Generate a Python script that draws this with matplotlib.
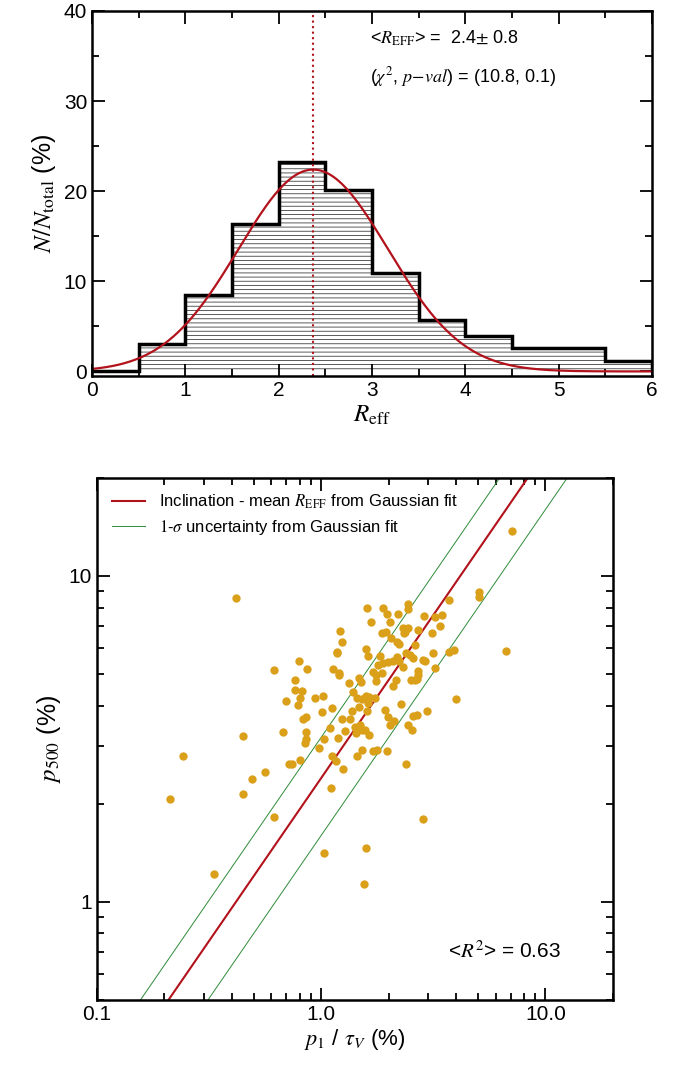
import numpy as np
import matplotlib
matplotlib.use("Agg")
import matplotlib.pyplot as plt
from matplotlib.ticker import MultipleLocator, FixedLocator, NullFormatter

plt.rcParams['font.family'] = ['Liberation Sans', 'DejaVu Sans']
plt.rcParams['mathtext.fontset'] = 'stix'
plt.rcParams['hatch.linewidth'] = 0.6

# histogram of R_eff (percent per bin)
bin_edges = [0, 0.5, 1.0, 1.5, 2.0, 2.5, 3.0, 3.5, 4.0, 4.5, 5.0, 5.5, 6.0]
bin_pct = [0.0, 3.0, 8.5, 16.4, 23.2, 20.1, 10.9, 5.7, 3.9, 2.6, 2.6, 1.2]
g_mean, g_sigma, g_peak = 2.37, 0.80, 22.4

# scatter: p1/tauV (%) vs p500 (%)
px = [7.11, 0.415, 5.04, 5.04, 3.72, 6.64, 3.97, 2.83, 1.58, 1.55, 1.03, 0.332, 0.211, 0.241,
      0.446, 0.45, 0.492, 0.564, 0.614, 0.614, 0.673, 0.697, 0.72, 0.74, 0.807, 0.798, 0.764,
      0.762, 0.82, 0.80, 0.79, 0.826, 0.855, 0.852, 0.858, 0.849, 0.866, 0.94, 1.02, 1.01,
      0.98, 1.03, 1.12, 1.16, 1.11, 1.25, 1.09, 1.19, 1.12, 1.24, 1.35, 1.37, 1.27, 1.21,
      1.24, 1.18, 1.18, 1.13, 1.20, 1.20, 1.33, 1.47, 1.50, 1.38, 1.44, 1.52, 1.58, 1.63,
      1.74, 1.48, 1.60, 1.61, 1.42, 1.49, 1.52, 1.57, 1.43, 1.64, 1.52, 1.45, 1.70, 1.77,
      1.96, 1.60, 1.89, 1.66, 1.96, 2.03, 2.19, 1.87, 1.95, 2.05, 2.17, 2.22, 1.58, 1.61,
      1.83, 1.80, 1.89, 1.99, 2.10, 2.17, 2.22, 1.70, 1.76, 1.75, 1.87, 2.08, 2.15, 2.32,
      2.40, 2.49, 2.57, 2.62, 2.43, 2.44, 2.32, 2.36, 2.44, 2.34, 2.86, 2.71, 3.12, 3.38,
      3.44, 3.23, 2.85, 2.90, 3.16, 3.70, 3.90, 3.21, 2.69, 2.71, 2.66, 2.51, 2.62, 2.27,
      2.95, 2.66, 2.57, 1.93, 1.99, 2.11, 2.03, 2.44, 2.55, 2.40]
py = [13.7, 8.55, 8.95, 8.65, 8.45, 5.89, 4.19, 1.79, 1.46, 1.135, 1.41, 1.22, 2.07, 2.81,
      2.14, 3.22, 2.38, 2.51, 1.82, 5.14, 3.31, 4.14, 2.65, 2.65, 2.73, 5.47, 4.80, 4.48,
      4.45, 4.23, 4.02, 3.64, 3.69, 3.32, 3.15, 3.07, 5.18, 4.23, 4.28, 3.82, 2.96, 3.16,
      2.80, 2.70, 2.23, 2.56, 3.42, 3.19, 3.94, 3.64, 3.64, 3.84, 3.34, 6.79, 6.27, 5.84,
      5.80, 5.18, 4.98, 5.05, 4.71, 4.86, 4.74, 4.40, 4.23, 4.19, 4.28, 4.25, 4.23, 3.96,
      3.86, 4.08, 3.45, 3.49, 3.37, 3.37, 3.29, 3.24, 2.93, 2.81, 2.90, 2.92, 2.90, 7.96,
      7.96, 7.24, 7.65, 7.24, 7.65, 6.67, 6.74, 6.44, 6.29, 6.18, 5.97, 5.70, 5.70, 5.35,
      5.42, 5.44, 5.47, 5.63, 5.47, 5.07, 4.98, 4.77, 5.03, 4.61, 4.81, 5.27, 5.79, 5.73,
      5.59, 6.15, 8.21, 7.90, 6.92, 6.74, 6.92, 6.67, 7.55, 6.84, 6.67, 7.0, 7.6, 7.48,
      5.53, 5.50, 5.82, 5.86, 5.93, 5.21, 5.11, 4.98, 4.83, 4.81, 4.81, 4.04, 3.86, 3.75,
      3.73, 3.87, 3.69, 3.58, 3.48, 3.50, 3.36, 2.65]
slope_mean, slope_lo, slope_hi = 2.4, 1.6, 3.2

red = '#B2121B'
green = '#2E8B3A'
gold = '#DAA01A'

fig = plt.figure(figsize=(6.83, 10.72), dpi=100)

# ---- top panel: histogram ----
ax1 = fig.add_axes([0.1347, 0.6493, 0.820, 0.3405])
lefts = np.array(bin_edges[:-1])
ax1.bar(lefts, bin_pct, width=0.5, align='edge', color='none', edgecolor='0.25',
        linewidth=0, hatch='----')
ax1.stairs(bin_pct, bin_edges, color='black', linewidth=2.5)
xx = np.linspace(0, 6, 400)
ax1.plot(xx, g_peak * np.exp(-0.5 * ((xx - g_mean) / g_sigma) ** 2), color=red, lw=1.6)
ax1.axvline(g_mean, color=red, ls=':', lw=1.5)
ax1.set_xlim(0, 6)
ax1.set_ylim(-0.5, 40)
ax1.xaxis.set_major_locator(MultipleLocator(1))
ax1.xaxis.set_minor_locator(MultipleLocator(0.5))
ax1.yaxis.set_major_locator(MultipleLocator(10))
ax1.yaxis.set_minor_locator(MultipleLocator(5))
ax1.set_xlabel(r'$R_{\mathrm{eff}}$', fontsize=18, labelpad=2)
ax1.set_ylabel(r'$N/N_{\mathrm{total}}$ (%)', fontsize=18)
ax1.text(2.98, 37, r'<$R_{\mathrm{EFF}}$> =  2.4$\pm$ 0.8', fontsize=13, va='center')
ax1.text(2.98, 32.7, r'($\chi^2$, $p\!-\!val$) = (10.8, 0.1)', fontsize=13, va='center')

# ---- bottom panel: scatter ----
ax2 = fig.add_axes([0.142, 0.0672, 0.7555, 0.487])
ax2.set_xscale('log')
ax2.set_yscale('log')
xl = np.array([0.1, 20])
ax2.plot(xl, slope_mean * xl, color=red, lw=1.5,
         label=r'Inclination - mean $R_{\mathrm{EFF}}$ from Gaussian fit')
ax2.plot(xl, slope_hi * xl, color=green, lw=0.7,
         label=r'$1$-$\sigma$ uncertainty from Gaussian fit')
ax2.plot(xl, slope_lo * xl, color=green, lw=0.7)
ax2.scatter(px, py, s=36, color=gold, zorder=3, linewidths=0)
ax2.set_xlim(0.1, 20)
ax2.set_ylim(0.5, 20)
ax2.xaxis.set_major_locator(FixedLocator([0.1, 1, 10]))
ax2.set_xticklabels(['0.1', '1.0', '10.0'])
ax2.yaxis.set_major_locator(FixedLocator([1, 10]))
ax2.set_yticklabels(['1', '10'])
ax2.xaxis.set_minor_formatter(NullFormatter())
ax2.yaxis.set_minor_formatter(NullFormatter())
ax2.set_xlabel(r'$p_1$ / $\tau_V$ (%)', fontsize=16, labelpad=2)
ax2.set_ylabel(r'$p_{500}$ (%)', fontsize=18)
ax2.legend(loc='upper left', frameon=False, fontsize=12, handlelength=2.0,
           borderaxespad=0.5, labelspacing=0.4)
ax2.text(0.68, 0.08, r'<$R^2$> = 0.63', transform=ax2.transAxes, fontsize=15)

for ax in (ax1, ax2):
    for s in ax.spines.values():
        s.set_linewidth(1.8)
    ax.tick_params(which='both', direction='in', top=True, right=True, labelsize=15)
    ax.tick_params(which='major', length=9, width=1.3)
    ax.tick_params(which='minor', length=5, width=1.3)

fig.savefig('out.png', dpi=100)
